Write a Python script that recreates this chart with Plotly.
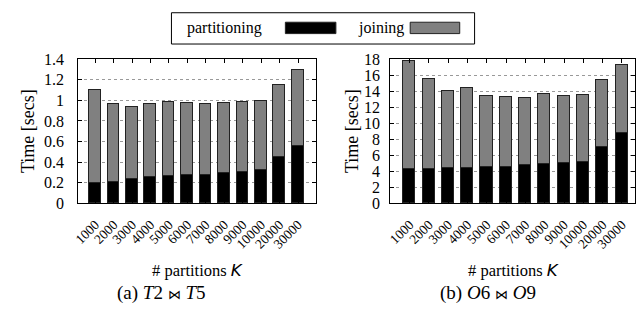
import plotly.graph_objects as go

categories = ["1000", "2000", "3000", "4000", "5000", "6000", "7000", "8000",
              "9000", "10000", "20000", "30000"]

# (a) T2 ⋈ T5
a_partitioning = [0.200, 0.206, 0.234, 0.249, 0.268, 0.277, 0.277, 0.289, 0.305, 0.317, 0.446, 0.557]
a_total = [1.098, 0.963, 0.932, 0.963, 0.980, 0.969, 0.963, 0.975, 0.980, 0.990, 1.148, 1.298]
a_joining = [round(t - p, 3) for t, p in zip(a_total, a_partitioning)]

# (b) O6 ⋈ O9
b_partitioning = [4.31, 4.31, 4.43, 4.39, 4.55, 4.47, 4.75, 4.87, 5.02, 5.18, 7.00, 8.74]
b_total = [17.76, 15.50, 14.00, 14.44, 13.41, 13.21, 13.13, 13.69, 13.33, 13.45, 15.39, 17.29]
b_joining = [round(t - p, 2) for t, p in zip(b_total, b_partitioning)]

a_yticks = [0, 0.2, 0.4, 0.6, 0.8, 1, 1.2, 1.4]
a_yticklabels = ["0", "0.2", "0.4", "0.6", "0.8", "1", "1.2", "1.4"]
b_yticks = [0, 2, 4, 6, 8, 10, 12, 14, 16, 18]

W, H = 644, 328
FONT = "Liberation Serif, Times New Roman, serif"
PART_COLOR = "#000000"
JOIN_COLOR = "#808080"
EDGE = "#222222"
BAR_W = 0.63

fig = go.Figure()
for xa, ya, part, join in [("x", "y", a_partitioning, a_joining),
                           ("x2", "y2", b_partitioning, b_joining)]:
    fig.add_trace(go.Bar(x=categories, y=part, name="partitioning", xaxis=xa, yaxis=ya,
                         marker=dict(color=PART_COLOR, line=dict(color=EDGE, width=1)),
                         width=BAR_W, showlegend=False))
    fig.add_trace(go.Bar(x=categories, y=join, name="joining", xaxis=xa, yaxis=ya,
                         marker=dict(color=JOIN_COLOR, line=dict(color=EDGE, width=1)),
                         width=BAR_W, showlegend=False))

def px(x):
    return x / W

def py(y):
    return 1 - y / H

common_x = dict(type="category", showline=True, linecolor="black", linewidth=1.2,
                mirror="allticks", ticks="inside", ticklen=4, tickcolor="black",
                tickangle=-45, tickfont=dict(family=FONT, size=13.5, color="black"),
                showgrid=False, zeroline=False, ticklabelstandoff=7)
common_y = dict(showline=True, linecolor="black", linewidth=1.2, mirror="allticks",
                ticks="inside", ticklen=4, tickcolor="black",
                tickfont=dict(family=FONT, size=16, color="black"),
                showgrid=True, gridcolor="#999999", griddash="dot", gridwidth=0.8,
                zeroline=False)

fig.update_layout(
    width=W, height=H, margin=dict(l=0, r=0, t=0, b=0),
    paper_bgcolor="white", plot_bgcolor="white", barmode="stack", bargap=0,
    font=dict(family=FONT, color="black"),
    xaxis=dict(common_x, domain=[px(73), px(313)], range=[-0.92, 11.98], anchor="y"),
    yaxis=dict(common_y, domain=[py(206), py(54)], range=[0, 1.4], anchor="x",
               tickvals=a_yticks, ticktext=a_yticklabels, ticklabelstandoff=10),
    xaxis2=dict(common_x, domain=[px(388), px(635)], range=[-1.0, 11.68], anchor="y2"),
    yaxis2=dict(common_y, domain=[py(206), py(54)], range=[0, 18], anchor="x2",
                tickvals=b_yticks, ticklabelstandoff=6),
)

def text(t, x, y, size, xanchor="center", angle=0):
    return dict(text=t, x=px(x), y=py(y), xref="paper", yref="paper",
                xanchor=xanchor, yanchor="middle", textangle=angle,
                showarrow=False, font=dict(family=FONT, size=size, color="black"))

ann = []
K = "# partitions <span style=\"font-family:'DejaVu Sans'\"><i>K</i></span>"
ann.append(text(K, 193, 277, 16.5))
ann.append(text(K, 512, 277, 16.5))
BOW = "<span style=\"font-size:13px\">\u22c8</span>"
ann.append(text("(a) <i>T</i>2 " + BOW + " <i>T</i>5", 157, 301, 19))
ann.append(text("(b) <i>O</i>6 " + BOW + " <i>O</i>9", 487, 301, 19))
ann.append(text("Time [secs]", 22, 130, 18, angle=-90))
ann.append(text("Time [secs]", 350, 130, 18, angle=-90))
# legend
ann.append(text("partitioning", 181, 21, 16, xanchor="left"))
ann.append(text("joining", 353, 21, 16, xanchor="left"))

shapes = [
    dict(type="rect", xref="paper", yref="paper", x0=px(167), x1=px(473), y0=py(38), y1=py(5),
         line=dict(color="black", width=1), fillcolor="white"),
    dict(type="rect", xref="paper", yref="paper", x0=px(282), x1=px(333), y0=py(27), y1=py(15),
         line=dict(color=EDGE, width=1), fillcolor=PART_COLOR),
    dict(type="rect", xref="paper", yref="paper", x0=px(408), x1=px(458), y0=py(27), y1=py(15),
         line=dict(color=EDGE, width=1), fillcolor=JOIN_COLOR),
]
fig.update_layout(annotations=ann, shapes=shapes)
fig.write_html("out.html", config={"displayModeBar": False},
               post_script="document.body.style.margin='0';")
